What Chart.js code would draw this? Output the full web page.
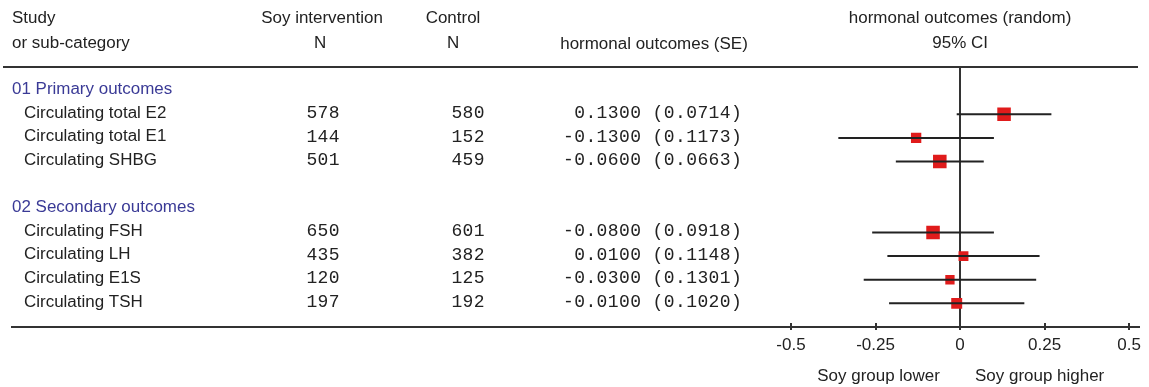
<!DOCTYPE html>
<html>
<head>
<meta charset="utf-8">
<script src="https://cdn.jsdelivr.net/npm/chart.js"></script>
<style>
  html, body { margin: 0; padding: 0; background: #fff; }
  #wrap { width: 1149px; height: 387px; }
</style>
</head>
<body>
<div id="wrap"><canvas id="forest"></canvas></div>
<script>
// data
const groupNames = ['01 Primary outcomes', '02 Secondary outcomes'];
const studyGroup = [0, 0, 0, 1, 1, 1, 1];
const studies = ['Circulating total E2', 'Circulating total E1', 'Circulating SHBG',
                 'Circulating FSH', 'Circulating LH', 'Circulating E1S', 'Circulating TSH'];
const nSoy = [578, 144, 501, 650, 435, 120, 197];
const nControl = [580, 152, 459, 601, 382, 125, 192];
const estimate = [0.13, -0.13, -0.06, -0.08, 0.01, -0.03, -0.01];
const stdErr = [0.0714, 0.1173, 0.0663, 0.0918, 0.1148, 0.1301, 0.1020];
const ciLow = [-0.01, -0.36, -0.19, -0.26, -0.215, -0.285, -0.21];
const ciHigh = [0.27, 0.10, 0.07, 0.10, 0.235, 0.225, 0.19];
const weightPct = [19.1, 11.1, 19.1, 19.1, 10.2, 9.0, 12.5];
const xTicks = [-0.5, -0.25, 0, 0.25, 0.5];
const tickLabels = ['-0.5', '-0.25', '0', '0.25', '0.5'];

const SANS = '"Liberation Sans", Arial, sans-serif';
const MONO = '"Liberation Mono", "Courier New", monospace';
const INK = '#222';
const LINE = '#333';

// one row per group header, the studies under it, a blank row between groups
const groupRow = [];
const studyRow = [];
let r = 0;
groupNames.forEach((g, gi) => {
    if (gi > 0) r++;
    groupRow[gi] = r++;
    studies.forEach((s, i) => { if (studyGroup[i] === gi) studyRow[i] = r++; });
});
const lastRow = r;

const ciPoints = [];
studies.forEach((s, i) => {
    ciPoints.push({ x: ciLow[i], y: studyRow[i] });
    ciPoints.push({ x: ciHigh[i], y: studyRow[i] });
    ciPoints.push({ x: ciHigh[i], y: null });
});
const boxPoints = studies.map((s, i) => ({ x: estimate[i], y: studyRow[i] }));
const boxRadius = weightPct.map(w => 3.1 * Math.sqrt(w) / Math.SQRT2);

function txt(ctx, s, x, y, font, color, align, sx) {
    ctx.save();
    ctx.font = font;
    ctx.fillStyle = color;
    ctx.textBaseline = 'middle';
    ctx.textAlign = align;
    ctx.translate(x, y);
    ctx.scale(sx || 1, 1);
    ctx.fillText(s, 0, 0);
    ctx.restore();
}

// fixed pitch text, one character per cell
function monoTxt(ctx, s, x, y, align) {
    const pitch = 11.2;
    const w = s.length * pitch;
    const x0 = align === 'right' ? x - w : align === 'center' ? x - w / 2 : x;
    ctx.save();
    ctx.font = '18px ' + MONO;
    ctx.fillStyle = INK;
    ctx.textBaseline = 'middle';
    ctx.textAlign = 'center';
    for (let k = 0; k < s.length; k++) ctx.fillText(s[k], x0 + (k + 0.5) * pitch, y);
    ctx.restore();
}

function estText(i) {
    return (estimate[i].toFixed(4)).padStart(7, ' ') + ' (' + stdErr[i].toFixed(4) + ')';
}

const tablePlugin = {
    id: 'table',
    afterDraw(chart) {
        const ctx = chart.ctx;
        const x = chart.scales.x, y = chart.scales.y;
        const area = chart.chartArea;
        const f = '16px ' + SANS;
        const sx = 1.06;

        // headers
        txt(ctx, 'Study', 12, 19, f, INK, 'left', sx);
        txt(ctx, 'or sub-category', 12, 44, f, INK, 'left', sx);
        txt(ctx, 'Soy intervention', 322, 19, f, INK, 'center', sx);
        txt(ctx, 'N', 320, 44, f, INK, 'center', sx);
        txt(ctx, 'Control', 453, 19, f, INK, 'center', sx);
        txt(ctx, 'N', 453, 44, f, INK, 'center', sx);
        txt(ctx, 'hormonal outcomes (SE)', 654, 45, f, INK, 'center', sx);
        txt(ctx, 'hormonal outcomes (random)', x.getPixelForValue(0), 19, f, INK, 'center', sx);
        txt(ctx, '95% CI', x.getPixelForValue(0), 44, f, INK, 'center', sx);

        groupNames.forEach((g, gi) => {
            txt(ctx, g, 12, y.getPixelForValue(groupRow[gi]) - 1, f, '#3a3a96', 'left', sx);
        });

        studies.forEach((s, i) => {
            const py = y.getPixelForValue(studyRow[i]) - 1;
            txt(ctx, s, 24, py, f, INK, 'left', sx);
            monoTxt(ctx, String(nSoy[i]), 323, py, 'center');
            monoTxt(ctx, String(nControl[i]), 468, py, 'center');
            monoTxt(ctx, estText(i), 742, py, 'right');
        });

        // rules
        ctx.save();
        ctx.strokeStyle = LINE;
        ctx.lineWidth = 2;
        ctx.beginPath();
        ctx.moveTo(3, area.top);
        ctx.lineTo(1138, area.top);
        ctx.moveTo(11, area.bottom);
        ctx.lineTo(1140, area.bottom);
        xTicks.forEach(v => {
            const px = Math.round(x.getPixelForValue(v));
            ctx.moveTo(px, area.bottom - 4);
            ctx.lineTo(px, area.bottom + 3);
        });
        ctx.stroke();
        ctx.restore();

        txt(ctx, 'Soy group lower', x.getPixelForValue(-0.25) + 3, 377, f, INK, 'center', sx);
        txt(ctx, 'Soy group higher', x.getPixelForValue(0.25) - 5, 377, f, INK, 'center', sx);
    }
};

new Chart(document.getElementById('forest'), {
    type: 'scatter',
    data: {
        datasets: [{
            type: 'line',
            data: ciPoints,
            borderColor: '#222',
            borderWidth: 2,
            pointRadius: 0,
            spanGaps: false,
            fill: false
        }, {
            data: boxPoints,
            pointStyle: 'rect',
            pointRadius: boxRadius,
            pointHoverRadius: boxRadius,
            backgroundColor: '#e01b1b',
            borderWidth: 0
        }]
    },
    options: {
        responsive: true,
        maintainAspectRatio: false,
        animation: false,
        devicePixelRatio: 1,
        layout: { padding: { left: 791, right: 15, top: 67, bottom: 0 } },
        plugins: { legend: { display: false }, tooltip: { enabled: false } },
        scales: {
            x: {
                type: 'linear',
                min: -0.5,
                max: 0.5,
                afterBuildTicks: s => { s.ticks = xTicks.map(v => ({ value: v })); },
                afterFit: s => { s.height = 60; },
                ticks: {
                    callback: (v, i) => tickLabels[i],
                    color: INK,
                    padding: 8,
                    maxRotation: 0,
                    font: { family: SANS, size: 17 }
                },
                grid: {
                    drawTicks: false,
                    lineWidth: 2,
                    color: c => (c.tick && c.tick.value === 0) ? LINE : 'rgba(0,0,0,0)'
                },
                border: { display: false }
            },
            y: {
                type: 'linear',
                display: false,
                reverse: true,
                min: -1,
                max: lastRow
            }
        }
    },
    plugins: [tablePlugin]
});
</script>
</body>
</html>
